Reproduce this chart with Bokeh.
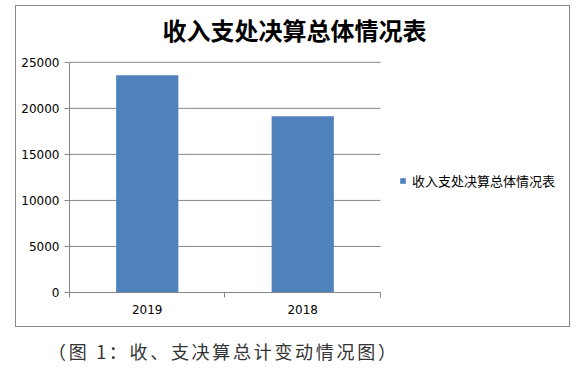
from bokeh.plotting import figure
from bokeh.models import (ColumnDataSource, FixedTicker, Legend, LegendItem, Div, Range1d, Label)
from bokeh.layouts import column
from bokeh.embed import file_html
from bokeh.resources import INLINE

years = ["2019", "2018"]
values = [23600, 19150]
y_ticks = [0, 5000, 10000, 15000, 20000, 25000]
title_text = "收入支处决算总体情况表"
caption_text = "（图 1：收、支决算总计变动情况图）"

n = len(years)
xpos = [0.5 + i for i in range(n)]
src = ColumnDataSource(dict(x=xpos, top=values, year=years))
grid_src = ColumnDataSource(dict(x0=[0] * (len(y_ticks) - 1), x1=[n] * (len(y_ticks) - 1),
                                 y=y_ticks[1:]))

W, H = 555, 322
# frame spans the whole bordered box; the value area is the lower-left part of it
p = figure(width=W, height=H, output_backend="svg", toolbar_location=None,
           x_range=Range1d(0, n * 1.611), y_range=Range1d(0, y_ticks[-1] * 1.2424),
           min_border_left=53, min_border_right=1, min_border_top=0, min_border_bottom=36,
           margin=(5, 0, 0, 15),
           styles={"border": "1px solid #888888", "box-sizing": "border-box"})
p.outline_line_color = None
p.background_fill_color = "white"
p.border_fill_color = "white"

# horizontal gridlines spanning only the category area
p.segment(x0="x0", x1="x1", y0="y", y1="y", source=grid_src, line_color="#868686", line_width=1)

r = p.vbar(x="x", top="top", width=0.4, source=src, fill_color="#4F81BD", line_color=None)

# axes
p.xaxis.bounds = (0, n)
p.xaxis.ticker = FixedTicker(ticks=xpos, minor_ticks=list(range(n + 1)))
p.xaxis.major_label_overrides = {x: y for x, y in zip(xpos, years)}
p.xaxis.major_tick_out = 0
p.xaxis.major_tick_in = 0
p.xaxis.minor_tick_out = 5
p.xaxis.minor_tick_in = 0
p.xaxis.minor_tick_line_color = "#868686"
p.xaxis.axis_line_color = "#868686"
p.xaxis.major_label_text_font = "DejaVu Sans"
p.xaxis.major_label_text_font_size = "12px"
p.xaxis.major_label_text_color = "#000000"
p.xaxis.major_label_standoff = 7

p.yaxis.bounds = (0, y_ticks[-1])
p.yaxis.ticker = FixedTicker(ticks=y_ticks, minor_ticks=[])
p.yaxis.major_tick_out = 5
p.yaxis.major_tick_in = 0
p.yaxis.major_tick_line_color = "#868686"
p.yaxis.axis_line_color = "#868686"
p.yaxis.major_label_text_font = "DejaVu Sans"
p.yaxis.major_label_text_font_size = "12px"
p.yaxis.major_label_text_color = "#000000"
p.yaxis.major_label_standoff = 5

p.xgrid.grid_line_color = None
p.ygrid.grid_line_color = None

# chart title (inside the bordered box, above the value area)
p.add_layout(Label(x=225, y=263, x_units="screen", y_units="screen", text=title_text,
                   text_align="center", text_baseline="middle", text_font="Noto Sans CJK SC",
                   text_font_style="bold", text_font_size="24px", text_color="#000000"))

legend = Legend(items=[LegendItem(label=title_text, renderers=[r])],
                location=(330, 102), glyph_width=7, glyph_height=7, label_standoff=6,
                label_text_font="Noto Sans CJK SC", label_text_font_size="13px",
                label_text_color="#000000", border_line_color=None,
                background_fill_alpha=0, margin=0, padding=0, spacing=0)
p.add_layout(legend, "center")

caption = Div(text=caption_text, margin=(12, 0, 0, 48),
              styles={"font-family": "Noto Sans CJK SC", "font-size": "18px",
                      "color": "#333333", "white-space": "nowrap", "letter-spacing": "2.7px"})

layout = column(p, caption)
open("out.html", "w").write(file_html(layout, INLINE))
